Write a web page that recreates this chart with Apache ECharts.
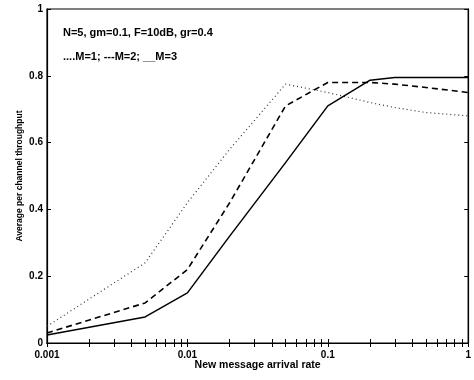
<!DOCTYPE html>
<html>
<head>
<meta charset="utf-8">
<script src="https://cdn.jsdelivr.net/npm/echarts@6/dist/echarts.min.js"></script>
<style>
  html, body { margin: 0; padding: 0; background: #fff; }
  #chart { width: 474px; height: 380px; }
</style>
</head>
<body>
<div id="chart"></div>
<script>
// arrival rate (x) and throughput for each M
const rates = [0.001, 0.005, 0.01, 0.02, 0.05, 0.1, 0.2, 0.3, 0.5, 1];
const m1 = [0.05, 0.24, 0.42, 0.58, 0.775, 0.75, 0.72, 0.705, 0.69, 0.68];
const m2 = [0.03, 0.12, 0.22, 0.42, 0.71, 0.78, 0.78, 0.775, 0.765, 0.75];
const m3 = [0.024, 0.078, 0.15, 0.32, 0.54, 0.71, 0.787, 0.795, 0.795, 0.795];
const xLabels = [0.001, 0.01, 0.1, 1];
const yLabels = ['0', '0.2', '0.4', '0.6', '0.8', '1'];

// log minor tick positions
const xTicks = [];
[0.001, 0.01, 0.1].forEach(d => {
  for (let k = 1; k < 10; k++) xTicks.push(+(d * k).toPrecision(3));
});
xTicks.push(1);

const font = 'Liberation Sans, Arial, sans-serif';
const toPairs = ys => rates.map((r, i) => [r, ys[i]]);

const myChart = echarts.init(document.getElementById('chart'));

const tickStyle = { show: true, inside: true, length: 4, lineStyle: { color: '#000', width: 1 } };

const option = {
  animation: false,
  backgroundColor: '#fff',
  grid: { left: 47, right: 1, top: 9, bottom: 37, show: true, borderColor: '#000', borderWidth: 1.2 },
  xAxis: [
    {
      type: 'log', logBase: 10, min: 0.001, max: 1,
      name: 'New message arrival rate', nameLocation: 'middle', nameGap: 17, nameMoveOverlap: false,
      nameTextStyle: { color: '#000', fontSize: 10.5, fontWeight: 'bold', fontFamily: font },
      axisLine: { show: true, lineStyle: { color: '#000', width: 1.2 } },
      axisTick: Object.assign({ customValues: xTicks }, tickStyle),
      axisLabel: {
        customValues: xLabels, color: '#000', fontSize: 10, fontWeight: 'bold', fontFamily: font, margin: 7,
        formatter: v => String(+(+v).toPrecision(3))
      },
      splitLine: { show: false }, minorTick: { show: false }
    },
    {
      type: 'log', logBase: 10, min: 0.001, max: 1, position: 'top',
      axisLine: { show: true, lineStyle: { color: '#000', width: 1.2 } },
      axisTick: Object.assign({ customValues: xTicks }, tickStyle),
      axisLabel: { show: false }, splitLine: { show: false }
    }
  ],
  yAxis: [
    {
      type: 'value', min: 0, max: 1, interval: 0.2,
      name: 'Average per channel throughput', nameLocation: 'middle', nameGap: 23, nameMoveOverlap: false,
      nameTextStyle: { color: '#000', fontSize: 8.5, fontWeight: 'bold', fontFamily: font },
      axisLine: { show: true, lineStyle: { color: '#000', width: 1.2 } },
      axisTick: tickStyle,
      axisLabel: {
        color: '#000', fontSize: 10, fontWeight: 'bold', fontFamily: font, margin: 4,
        formatter: (v, i) => yLabels[i]
      },
      splitLine: { show: false }
    },
    {
      type: 'value', min: 0, max: 1, interval: 0.2, position: 'right',
      axisLine: { show: true, lineStyle: { color: '#000', width: 1.2 } },
      axisTick: tickStyle, axisLabel: { show: false }, splitLine: { show: false }
    }
  ],
  graphic: [
    { type: 'text', left: 63, top: 27, style: { text: 'N=5, gm=0.1, F=10dB, gr=0.4', fill: '#000', font: 'bold 11px ' + font } },
    { type: 'text', left: 63, top: 51, style: { text: '....M=1; ---M=2; __M=3', fill: '#000', font: 'bold 11px ' + font } }
  ],
  series: [
    {
      name: 'M=1', type: 'line', data: toPairs(m1), symbol: 'none',
      lineStyle: { color: '#333', width: 1.2, type: [1, 3] }
    },
    {
      name: 'M=2', type: 'line', data: toPairs(m2), symbol: 'none',
      lineStyle: { color: '#000', width: 1.6, type: [6, 4] }
    },
    {
      name: 'M=3', type: 'line', data: toPairs(m3), symbol: 'none',
      lineStyle: { color: '#000', width: 1.5, type: 'solid' }
    }
  ]
};
myChart.setOption(option);
</script>
</body>
</html>
